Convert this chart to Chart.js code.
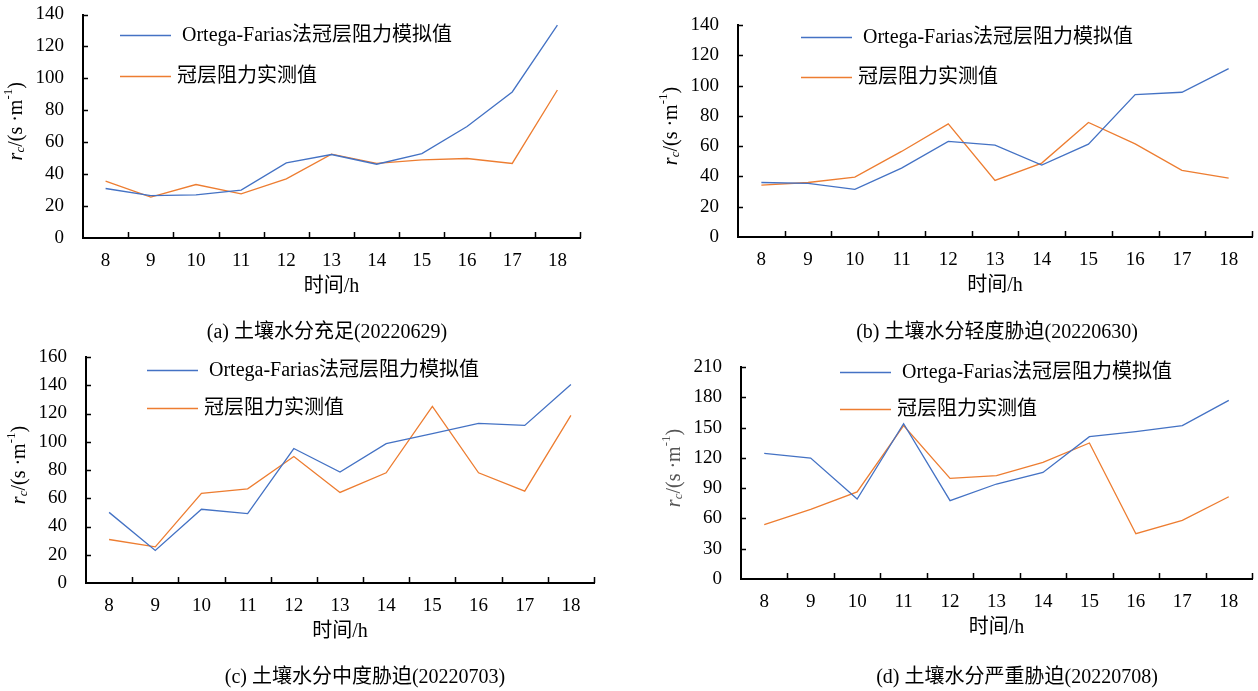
<!DOCTYPE html>
<html>
<head>
<meta charset="utf-8">
<script src="https://cdn.jsdelivr.net/npm/chart.js@4.4.1/dist/chart.umd.min.js"></script>
<style>
  body { margin: 0; background: #fff; width: 1258px; height: 691px; position: relative; overflow: hidden; }
  canvas { position: absolute; }
</style>
</head>
<body>
<canvas id="ca" width="629" height="345" style="left:0;top:0"></canvas>
<canvas id="cb" width="629" height="345" style="left:629px;top:0"></canvas>
<canvas id="cc" width="629" height="345" style="left:0;top:345px"></canvas>
<canvas id="cd" width="629" height="345" style="left:629px;top:345px"></canvas>
<script>
// hours of day
const hours = ['8', '9', '10', '11', '12', '13', '14', '15', '16', '17', '18'];

// (a) 20220629
const simA = [31, 26.5, 27, 30, 47, 52.3, 46.2, 52.9, 69.8, 91.5, 133.3];
const obsA = [35.6, 25.6, 33.5, 27.7, 37, 52.5, 46.7, 49, 49.8, 46.7, 92.7];
// (b) 20220630
const simB = [36, 35.4, 31.4, 45.5, 63.1, 60.7, 47.5, 61.3, 94, 95.6, 111.2];
const obsB = [34.3, 36, 39.6, 56.5, 74.7, 37.4, 48.8, 75.6, 61.5, 44, 38.9];
// (c) 20220703
const simC = [50, 23, 52.2, 49.1, 95.2, 78.5, 98.7, 105.7, 113, 111.6, 140.5];
const obsC = [30.8, 25.6, 63.4, 66.7, 89.5, 64.1, 78, 125, 78, 65, 118.7];
// (d) 20220708
const simD = [124.5, 119.8, 79.2, 153.8, 77.6, 94.1, 105.6, 141, 146, 151.9, 177];
const obsD = [53.8, 69, 86.2, 151.9, 99.7, 102.3, 115.5, 134.7, 44.9, 58.1, 81.5];

const yMaxes = [140, 140, 160, 210];
const ySteps = [20, 20, 20, 30];

const simLabel = 'Ortega-Farias法冠层阻力模拟值';
const obsLabel = '冠层阻力实测值';
const captions = [
  '(a) 土壤水分充足(20220629)',
  '(b) 土壤水分轻度胁迫(20220630)',
  '(c) 土壤水分中度胁迫(20220703)',
  '(d) 土壤水分严重胁迫(20220708)'
];

const serif = '"Liberation Serif", "Times New Roman", "Noto Sans CJK SC", serif';
Chart.defaults.font.family = serif;
Chart.defaults.color = '#000';

// layout of each panel inside its canvas
const panels = [
  { id: 'ca', sim: simA, obs: obsA, yw: 83, right: 49, top: 14.5, bottom: 37, lx: 120, ly: 34.5, lgap: 41.5, capX: 327, titleColor: '#000' },
  { id: 'cb', sim: simB, obs: obsB, yw: 109, right: 6, top: 25, bottom: 38, lx: 172, ly: 36.7, lgap: 40.3, capX: 368, titleColor: '#000' },
  { id: 'cc', sim: simC, obs: obsC, yw: 86, right: 35, top: 12, bottom: 37, lx: 147, ly: 25, lgap: 38, capX: 365, titleColor: '#000' },
  { id: 'cd', sim: simD, obs: obsD, yw: 112, right: 6, top: 22, bottom: 41, lx: 211, ly: 27, lgap: 37, capX: 388, titleColor: '#555' }
];

const decor = {
  id: 'decor',
  afterDraw(chart, args, opts) {
    const ctx = chart.ctx;
    const a = chart.chartArea;
    const x = chart.scales.x, y = chart.scales.y;
    ctx.save();
    ctx.strokeStyle = '#000';
    ctx.lineWidth = 1.5;
    // inner tick marks
    const half = (x.getPixelForTick(1) - x.getPixelForTick(0)) / 2;
    ctx.beginPath();
    for (let i = 0; i < hours.length; i++) {
      const px = Math.round(x.getPixelForTick(i) + half) + 0.5;
      ctx.moveTo(px, a.bottom);
      ctx.lineTo(px, a.bottom - 6);
    }
    y.ticks.forEach(t => {
      if (t.value === 0) return;
      const py = Math.round(y.getPixelForValue(t.value)) + 0.5;
      ctx.moveTo(a.left, py);
      ctx.lineTo(a.left + 5, py);
    });
    ctx.stroke();

    // y axis title r_c/(s ·m^-1)
    const parts = [
      { t: 'r', f: 'italic 20px ' + serif, dy: 0 },
      { t: 'c', f: 'italic 13px ' + serif, dy: 4 },
      { t: '/(s ·m', f: '20px ' + serif, dy: 0 },
      { t: '-1', f: '13px ' + serif, dy: -8 },
      { t: ')', f: '20px ' + serif, dy: 0 }
    ];
    let total = 0;
    parts.forEach(p => { ctx.font = p.f; p.w = ctx.measureText(p.t).width; total += p.w; });
    ctx.translate(a.left - 66, (a.top + a.bottom) / 2 - 5);
    ctx.rotate(-Math.PI / 2);
    ctx.fillStyle = opts.titleColor;
    ctx.textBaseline = 'middle';
    ctx.textAlign = 'left';
    let cx = -total / 2;
    parts.forEach(p => { ctx.font = p.f; ctx.fillText(p.t, cx, p.dy); cx += p.w; });
    ctx.setTransform(1, 0, 0, 1, 0, 0);

    // legend
    ctx.font = '20px ' + serif;
    ctx.fillStyle = '#000';
    chart.data.datasets.forEach((ds, i) => {
      const ly = Math.round(opts.ly + i * opts.lgap) + 0.5;
      ctx.strokeStyle = ds.borderColor;
      ctx.lineWidth = 1.4;
      ctx.beginPath();
      ctx.moveTo(opts.lx, ly);
      ctx.lineTo(opts.lx + 51, ly);
      ctx.stroke();
      ctx.fillText(ds.label, opts.lx + 51 + (i === 0 ? 11 : 6), ly);
    });

    // panel caption
    ctx.textAlign = 'center';
    ctx.fillText(opts.caption, opts.capX, 333);
    ctx.restore();
  }
};

panels.forEach((p, k) => {
  new Chart(document.getElementById(p.id), {
    type: 'line',
    data: {
      labels: hours,
      datasets: [
        { label: simLabel, data: p.sim, borderColor: '#4472C4', borderWidth: 1.3, pointRadius: 0, tension: 0, fill: false },
        { label: obsLabel, data: p.obs, borderColor: '#ED7D31', borderWidth: 1.3, pointRadius: 0, tension: 0, fill: false }
      ]
    },
    options: {
      responsive: false,
      devicePixelRatio: 1,
      animation: false,
      layout: { padding: { left: 0, right: p.right, top: p.top, bottom: p.bottom } },
      scales: {
        x: {
          type: 'category',
          offset: true,
          grid: { display: false, drawTicks: false },
          border: { display: true, color: '#000', width: 2 },
          ticks: { font: { size: 19 }, color: '#000', padding: 12, maxRotation: 0, autoSkip: false },
          title: { display: true, text: '时间/h', font: { size: 20 }, color: '#000', padding: { top: 0, bottom: 9 } },
          afterFit: s => { s.height = 70; s.paddingLeft = 0; s.paddingRight = 0; }
        },
        y: {
          min: 0,
          max: yMaxes[k],
          grid: { display: false, drawTicks: false },
          border: { display: true, color: '#000', width: 2 },
          ticks: { stepSize: ySteps[k], font: { size: 19 }, color: '#000', padding: 19 },
          afterFit: s => { s.width = p.yw; s.paddingTop = 0; s.paddingBottom = 0; }
        }
      },
      plugins: {
        legend: { display: false },
        tooltip: { enabled: false },
        title: { display: false },
        decor: { lx: p.lx, ly: p.ly, lgap: p.lgap, titleColor: p.titleColor, caption: captions[k], capX: p.capX }
      }
    },
    plugins: [decor]
  });
});
</script>
</body>
</html>
